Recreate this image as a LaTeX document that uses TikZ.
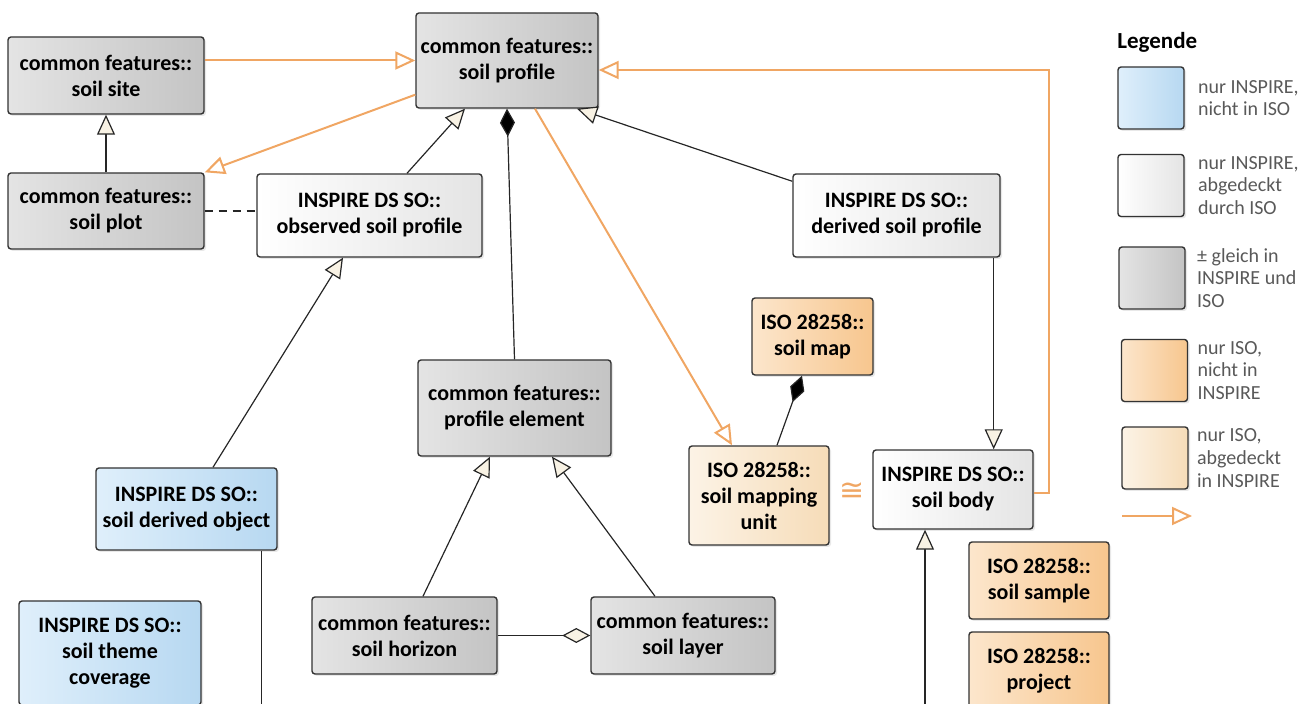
\documentclass[tikz,border=0pt]{standalone}
\usepackage{fontspec}
\setmainfont{Carlito}
\newfontfamily\symfont{DejaVu Sans}
\usepackage{tikz}
\usetikzlibrary{arrows.meta,positioning,shadows}

\definecolor{cfleft}{HTML}{E4E4E4}
\definecolor{cfright}{HTML}{C4C4C4}
\definecolor{inright}{HTML}{E4E4E4}
\definecolor{blleft}{HTML}{DFEFFB}
\definecolor{blright}{HTML}{B7D8F1}
\definecolor{isoleft}{HTML}{FCE6CC}
\definecolor{isoright}{HTML}{F7C68E}
\definecolor{iscleft}{HTML}{FCF3E6}
\definecolor{iscright}{HTML}{F6DCB8}
\definecolor{isoline}{HTML}{F0A663}
\definecolor{cream}{HTML}{F8F2E4}

\tikzset{
  cls/.style={draw=black!80, line width=0.7pt, rounded corners=1.5pt, align=center,
    inner sep=2pt, font=\bfseries\fontsize{11}{13}\selectfont,
    drop shadow={shadow xshift=1pt, shadow yshift=-1pt, opacity=.18}},
  cfcls/.style={cls, left color=cfleft, right color=cfright},
  incls/.style={cls, left color=white, right color=inright},
  blcls/.style={cls, left color=blleft, right color=blright},
  isocls/.style={cls, left color=isoleft, right color=isoright},
  isccls/.style={cls, left color=iscleft, right color=iscright},
  lgbox/.style={minimum width=33pt, minimum height=31pt, inner sep=0pt},
  legtext/.style={align=left, inner sep=0pt, text=black!65,
    font=\fontsize{10}{11.4}\selectfont},
  gen/.style={draw=black!85, line width=0.6pt,
    -{Triangle[length=10pt, width=9pt, fill=cream]}},
  genor/.style={draw=isoline, line width=1pt,
    -{Triangle[length=10pt, width=9pt, fill=white]}},
  assoc/.style={draw=black!85, line width=0.6pt},
  comp/.style={draw=black!85, line width=0.6pt,
    -{Diamond[length=14pt, width=7.5pt, fill=black]}},
  aggr/.style={draw=black!85, line width=0.6pt,
    -{Diamond[length=14pt, width=7.5pt, fill=cream]}},
}

\begin{document}
\begin{tikzpicture}[x=0.5pt, y=-0.5pt]
      \useasboundingbox (0,0) rectangle (1314,704);
      \clip (0,0) rectangle (1314,704);
      % common features
      \node[cfcls, minimum width=98pt, minimum height=38.5pt] (site) at (106,75.5) {common features::\\soil site};
      \node[cfcls, minimum width=91pt, minimum height=47.5pt] (profile) at (507,60.5) {common features::\\soil profile};
      \node[cfcls, minimum width=98pt, minimum height=38pt] (plot) at (106,211) {common features::\\soil plot};
      \node[cfcls, minimum width=96.5pt, minimum height=48pt] (pelem) at (514.5,408) {common features::\\profile element};
      \node[cfcls, minimum width=92.5pt, minimum height=38.5pt] (horizon) at (404.5,635.5) {common features::\\soil horizon};
      \node[cfcls, minimum width=92pt, minimum height=38.5pt] (layer) at (683,635.5) {common features::\\soil layer};
      % INSPIRE DS SO
      \node[incls, minimum width=112.5pt, minimum height=41.5pt] (observed) at (369.5,215.5) {INSPIRE DS SO::\\observed soil profile};
      \node[incls, minimum width=103.5pt, minimum height=41.5pt] (derived) at (896.5,215.5) {INSPIRE DS SO::\\derived soil profile};
      \node[incls, minimum width=80pt, minimum height=39.5pt] (body) at (953,489.5) {INSPIRE DS SO::\\soil body};
      \node[blcls, minimum width=90.5pt, minimum height=41pt] (sdo) at (186.5,509) {INSPIRE DS SO::\\soil derived object};
      \node[blcls, minimum width=91pt, minimum height=52pt] (stc) at (110,653) {INSPIRE DS SO::\\soil theme\\coverage};
      % ISO 28258
      \node[isocls, minimum width=60.5pt, minimum height=38.5pt] (smap) at (812.5,336.5) {ISO 28258::\\soil map};
      \node[isccls, minimum width=70pt, minimum height=49.5pt] (smu) at (759,495.5) {ISO 28258::\\soil mapping\\unit};
      \node[isocls, minimum width=70pt, minimum height=38.5pt] (sample) at (1039,580.5) {ISO 28258::\\soil sample};
      \node[isocls, minimum width=70pt, minimum height=38.5pt] (project) at (1039,670.5) {ISO 28258::\\project};
      \node[text=isoline, inner sep=0pt, font=\symfont\fontsize{15}{17}\selectfont] (cong) at (852,492) {≅};

      % connectors
      \draw[genor] (site.east |- profile.west) -- (profile.west);
      \draw[genor] ([yshift=7pt]profile.south west) -- (plot.north east);
      \draw[gen] (plot.north) -- (site.south);
      \draw[assoc, dashed, dash pattern=on 4pt off 3pt] (plot.east) -- (plot.east -| observed.west);
      \draw[gen] ([xshift=18.75pt]observed.north) -- ([xshift=-21pt]profile.south);
      \draw[gen] ([yshift=-4pt]derived.north west) -- ([xshift=35pt]profile.south);
      \draw[comp] (pelem.north) -- (profile.south);
      \draw[genor] ([xshift=14pt]profile.south) -- ([xshift=-13.5pt]smu.north);
      \draw[genor] ([yshift=-1.75pt]body.east) -- ++(15,0) |- ([yshift=-4.75pt]profile.east);
      \coordinate (dsp) at ([xshift=-3.5pt]derived.south east);
      \draw[gen] (dsp) -- (dsp |- body.north);
      \draw[gen] ([xshift=13.25pt]sdo.north) -- ([xshift=-13.25pt]observed.south);
      \draw[assoc] ([xshift=-8pt]sdo.south east) -- ++(0,170);
      \coordinate (bodyin) at (925,720);
      \draw[gen] (bodyin) -- ([xshift=-14pt]body.south);
      \draw[gen] ([xshift=9.25pt]horizon.north) -- ([xshift=-12.25pt]pelem.south);
      \draw[gen] ([xshift=-14pt]layer.north) -- ([xshift=18.75pt]pelem.south);
      \draw[aggr] (horizon.east) -- (layer.west);
      \draw[comp] ([xshift=9pt]smu.north) -- ([xshift=-5.25pt]smap.south);

      % Legende
      \node[anchor=west, inner sep=0pt, font=\bfseries\fontsize{11.5}{13}\selectfont] (legtitle) at (1117,42) {Legende};
      \node[blcls, lgbox] (lb1) at (1151,98) {};
      \node[incls, lgbox] (lb2) at (1151,185.5) {};
      \node[cfcls, lgbox] (lb3) at (1152,278) {};
      \node[isocls, lgbox] (lb4) at (1154.5,370.5) {};
      \node[isccls, lgbox] (lb5) at (1155,458) {};
      \node[legtext, right=6.5pt of lb1] (lt1) {nur INSPIRE,\\nicht in ISO};
      \node[legtext, right=6.5pt of lb2] (lt2) {nur INSPIRE,\\abgedeckt\\durch ISO};
      \node[legtext, right=5.5pt of lb3] (lt3) {± gleich in\\INSPIRE und\\ISO};
      \node[legtext, right=4.5pt of lb4] (lt4) {nur ISO,\\nicht in\\INSPIRE};
      \node[legtext, right=4pt of lb5] (lt5) {nur ISO,\\abgedeckt\\in INSPIRE};
      \coordinate (la0) at (1122,516);
      \coordinate (la1) at (1192,516);
      \draw[genor] (la0) -- (la1);
\end{tikzpicture}
\end{document}
